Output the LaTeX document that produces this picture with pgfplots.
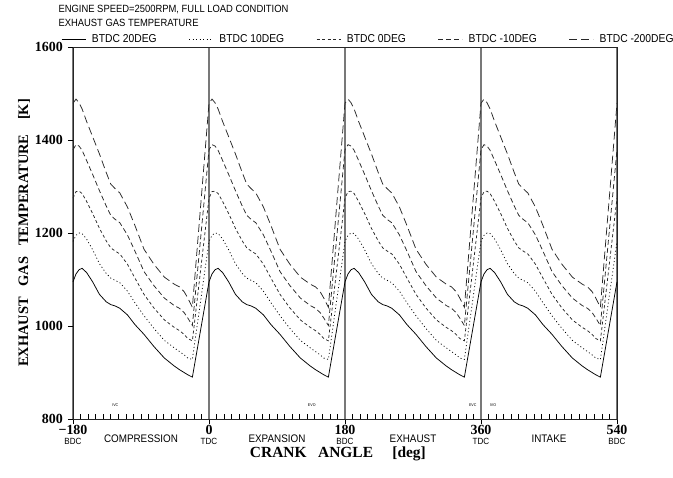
\documentclass[border=0pt]{standalone}
\usepackage{fontspec}
\usepackage{pgfplots}
\usepackage{pgfplotstable}
\pgfplotsset{compat=1.18}
\setmainfont{Liberation Serif}
\newfontfamily\plotfont[FakeStretch=0.9]{Liberation Sans}
\definecolor{gridgray}{RGB}{120,120,120}
\definecolor{curvegray}{RGB}{40,40,40}

% crank angle, BTDC 20, BTDC 10, BTDC 0, BTDC -10, BTDC -200
\pgfplotstableread{
x s d1 d2 d3 e
-180 1095 1182 1275 1379 1479
-176 1112 1195 1289 1390 1488
-172 1121 1200 1290 1387 1480
-168 1124 1199 1285 1378 1467
-162 1115 1187 1268 1356 1440
-154 1095 1164 1242 1326 1407
-145 1068 1134 1210 1291 1370
-136 1052 1113 1183 1258 1330
-130 1046 1103 1168 1238 1305
-124 1043 1098 1161 1229 1295
-118 1038 1093 1155 1222 1286
-108 1024 1075 1133 1196 1256
-98 1003 1050 1103 1161 1216
-86 982 1022 1068 1117 1165
-73 956 995 1039 1087 1133
-59 931 969 1013 1060 1105
-46 914 953 997 1044 1090
-39 906 945 990 1038 1084
-33 900 938 982 1029 1074
-28 895 931 973 1017 1060
-22 890 928 968 1001 1040
0 1095 1182 1275 1379 1479
4 1112 1195 1289 1390 1488
8 1121 1200 1290 1387 1480
12 1124 1199 1285 1378 1467
18 1115 1187 1268 1356 1440
26 1095 1164 1242 1326 1407
35 1068 1134 1210 1291 1370
44 1052 1113 1183 1258 1330
50 1046 1103 1168 1238 1305
56 1043 1098 1161 1229 1295
62 1038 1093 1155 1222 1286
72 1024 1075 1133 1196 1256
82 1003 1050 1103 1161 1216
94 982 1022 1068 1117 1165
107 956 995 1039 1087 1133
121 931 969 1013 1060 1105
134 914 953 997 1044 1090
141 906 945 990 1038 1084
147 900 938 982 1029 1074
152 895 931 973 1017 1060
158 890 928 968 1001 1040
180 1095 1182 1275 1379 1479
184 1112 1195 1289 1390 1488
188 1121 1200 1290 1387 1480
192 1124 1199 1285 1378 1467
198 1115 1187 1268 1356 1440
206 1095 1164 1242 1326 1407
215 1068 1134 1210 1291 1370
224 1052 1113 1183 1258 1330
230 1046 1103 1168 1238 1305
236 1043 1098 1161 1229 1295
242 1038 1093 1155 1222 1286
252 1024 1075 1133 1196 1256
262 1003 1050 1103 1161 1216
274 982 1022 1068 1117 1165
287 956 995 1039 1087 1133
301 931 969 1013 1060 1105
314 914 953 997 1044 1090
321 906 945 990 1038 1084
327 900 938 982 1029 1074
332 895 931 973 1017 1060
338 890 928 968 1001 1040
360 1095 1182 1275 1379 1479
364 1112 1195 1289 1390 1488
368 1121 1200 1290 1387 1480
372 1124 1199 1285 1378 1467
378 1115 1187 1268 1356 1440
386 1095 1164 1242 1326 1407
395 1068 1134 1210 1291 1370
404 1052 1113 1183 1258 1330
410 1046 1103 1168 1238 1305
416 1043 1098 1161 1229 1295
422 1038 1093 1155 1222 1286
432 1024 1075 1133 1196 1256
442 1003 1050 1103 1161 1216
454 982 1022 1068 1117 1165
467 956 995 1039 1087 1133
481 931 969 1013 1060 1105
494 914 953 997 1044 1090
501 906 945 990 1038 1084
507 900 938 982 1029 1074
512 895 931 973 1017 1060
518 890 928 968 1001 1040
540 1095 1182 1275 1379 1479
}\datatable

\begin{document}
\begin{tikzpicture}
\begin{axis}[
  at={(73bp,59bp)}, anchor=south west,
  scale only axis, width=544bp, height=372bp,
  xmin=-180, xmax=540, ymin=800, ymax=1600,
  clip=false,
  xtick={-180,0,180,360,540},
  xticklabels={{−180\\[-4bp]{\plotfont\fontsize{9}{9}\selectfont\mdseries BDC}},
               {0\\[-4bp]{\plotfont\fontsize{9}{9}\selectfont\mdseries TDC}},
               {180\\[-4bp]{\plotfont\fontsize{9}{9}\selectfont\mdseries BDC}},
               {360\\[-4bp]{\plotfont\fontsize{9}{9}\selectfont\mdseries TDC}},
               {540\\[-4bp]{\plotfont\fontsize{9}{9}\selectfont\mdseries BDC}}},
  xticklabel style={align=center, font=\bfseries\fontsize{14}{14}\selectfont, inner sep=1bp, yshift=0bp},
  minor x tick num=17,
  ytick={800,1000,1200,1400,1600},
  yticklabel style={font=\bfseries\fontsize{14}{14}\selectfont, inner sep=2bp, xshift=-3bp},
  /pgf/number format/assume math mode=true,
  /pgf/number format/1000 sep={},
  tick pos=left,
  tick align=outside,
  major tick length=5bp,
  minor tick length=5bp,
  minor x tick style={yshift=5bp},
  tick style={black, line width=0.7bp},
  xmajorgrids,
  major x grid style={gridgray, line width=1.2bp},
  axis line style={line width=0.8bp, black!85},
  xlabel={CRANK\ \ \ ANGLE\ \ \ \ \ [deg]},
  xlabel style={font=\bfseries\fontsize{15.5}{15.5}\selectfont, at={(rel axis cs:0.487,0)}, anchor=center, yshift=-35bp},
  ylabel={EXHAUST\ \ \ GAS\ \ \ TEMPERATURE\ \ \ \ [K]},
  ylabel style={font=\bfseries\fontsize{14.5}{14.5}\selectfont, at={(rel axis cs:-0.09,0.5)}, anchor=center},
  legend columns=5,
  legend style={draw=none, fill=none, at={(rel axis cs:0,1)}, anchor=south west,
     xshift=-12bp, yshift=1bp, inner sep=0pt,
     font=\plotfont\fontsize{11.5}{11.5}\selectfont,
     /tikz/every even column/.append style={column sep=30bp},
     /tikz/every odd column/.append style={column sep=4bp},
     nodes={inner sep=2bp}},
  legend image code/.code={\draw[#1] (0bp,0bp) -- (24bp,0bp);},
  every axis plot/.append style={line width=0.75bp},
]
\addplot[black] table[x=x, y=s] {\datatable};
\addlegendentry{BTDC 20DEG}
\addplot[black, dash pattern=on 1bp off 2.5bp] table[x=x, y=d1] {\datatable};
\addlegendentry{BTDC 10DEG}
\addplot[curvegray, dash pattern=on 3bp off 2.5bp] table[x=x, y=d2] {\datatable};
\addlegendentry{BTDC 0DEG}
\addplot[curvegray, dash pattern=on 5bp off 3bp] table[x=x, y=d3] {\datatable};
\addlegendentry{BTDC -10DEG}
\addplot[curvegray, dash pattern=on 8bp off 4bp] table[x=x, y=e] {\datatable};
\addlegendentry{BTDC -200DEG}

\node[font=\plotfont\fontsize{11}{11}\selectfont, anchor=base] at (axis cs:-90,800) [yshift=-23bp] {COMPRESSION};
\node[font=\plotfont\fontsize{11}{11}\selectfont, anchor=base] at (axis cs:90,800) [yshift=-23bp] {EXPANSION};
\node[font=\plotfont\fontsize{11}{11}\selectfont, anchor=base] at (axis cs:270,800) [yshift=-23bp] {EXHAUST};
\node[font=\plotfont\fontsize{11}{11}\selectfont, anchor=base] at (axis cs:450,800) [yshift=-23bp] {INTAKE};
\node[font=\plotfont\fontsize{4}{4}\selectfont] at (axis cs:-124,830) {IVC};
\node[font=\plotfont\fontsize{4}{4}\selectfont] at (axis cs:136,830) {EVO};
\node[font=\plotfont\fontsize{4}{4}\selectfont] at (axis cs:349,830) {EVC};
\node[font=\plotfont\fontsize{4}{4}\selectfont] at (axis cs:376,830) {IVO};
\end{axis}
\node[font=\plotfont\fontsize{10.5}{10.5}\selectfont, anchor=base west] at (55bp,465bp) {ENGINE SPEED=2500RPM, FULL LOAD CONDITION};
\node[font=\plotfont\fontsize{10.5}{10.5}\selectfont, anchor=base west] at (55bp,451bp) {EXHAUST GAS TEMPERATURE};
\pgfresetboundingbox
\path[use as bounding box] (0,0) rectangle (673bp,478bp);
\end{tikzpicture}
\end{document}
